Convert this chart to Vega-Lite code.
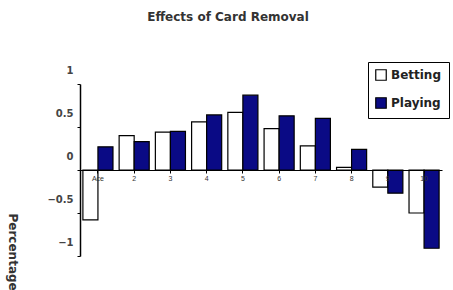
{
  "$schema": "https://vega.github.io/schema/vega-lite/v6.json",
  "autosize": "none",
  "width": 362,
  "height": 172,
  "padding": {"left": 80, "top": 84, "right": 11, "bottom": 34},
  "background": "white",
  "title": {
    "text": "Effects of Card Removal",
    "font": "DejaVu Sans",
    "fontSize": 12,
    "fontWeight": "bold",
    "color": "#333333",
    "anchor": "middle",
    "frame": "group",
    "dx": -33,
    "offset": 38
  },
  "data": {
    "values": [
      {"card": "Ace", "type": "Betting", "value": -0.58},
      {"card": "Ace", "type": "Playing", "value": 0.27},
      {"card": "2", "type": "Betting", "value": 0.4},
      {"card": "2", "type": "Playing", "value": 0.33},
      {"card": "3", "type": "Betting", "value": 0.44},
      {"card": "3", "type": "Playing", "value": 0.45},
      {"card": "4", "type": "Betting", "value": 0.56},
      {"card": "4", "type": "Playing", "value": 0.64},
      {"card": "5", "type": "Betting", "value": 0.67},
      {"card": "5", "type": "Playing", "value": 0.87},
      {"card": "6", "type": "Betting", "value": 0.48},
      {"card": "6", "type": "Playing", "value": 0.63},
      {"card": "7", "type": "Betting", "value": 0.28},
      {"card": "7", "type": "Playing", "value": 0.6},
      {"card": "8", "type": "Betting", "value": 0.03},
      {"card": "8", "type": "Playing", "value": 0.24},
      {"card": "9", "type": "Betting", "value": -0.2},
      {"card": "9", "type": "Playing", "value": -0.27},
      {"card": "10", "type": "Betting", "value": -0.5},
      {"card": "10", "type": "Playing", "value": -0.91}
    ]
  },
  "mark": {"type": "bar", "stroke": "black", "strokeWidth": 1.2},
  "encoding": {
    "x": {
      "field": "card",
      "type": "nominal",
      "sort": ["Ace", "2", "3", "4", "5", "6", "7", "8", "9", "10"],
      "scale": {"paddingInner": 0.17, "paddingOuter": 0.08},
      "axis": {
        "title": null,
        "offset": -86,
        "labelAngle": 0,
        "labelFontSize": 7,
        "labelColor": "#333333",
        "labelPadding": 1,
        "tickSize": 3,
        "tickColor": "black",
        "domainColor": "black",
        "domainWidth": 1.2,
        "zindex": 1
      }
    },
    "xOffset": {"field": "type", "type": "nominal", "sort": ["Betting", "Playing"]},
    "y": {
      "field": "value",
      "type": "quantitative",
      "scale": {"domain": [-1, 1], "nice": false},
      "axis": {
        "values": [-1, -0.5, 0, 0.5, 1],
        "format": "~g",
        "grid": false,
        "labelFont": "DejaVu Sans",
        "labelFontSize": 10,
        "labelFontWeight": "bold",
        "labelColor": "#444444",
        "labelOffset": -14,
        "labelPadding": 4,
        "tickSize": 3,
        "tickColor": "black",
        "domainColor": "black",
        "domainWidth": 1.5,
        "title": "Percentage",
        "titleAngle": 90,
        "titleX": -68,
        "titleY": 129,
        "titleAlign": "left",
        "titleBaseline": "middle",
        "titleFont": "DejaVu Sans",
        "titleFontSize": 12,
        "titleFontWeight": "bold",
        "titleColor": "#333333"
      }
    },
    "fill": {
      "field": "type",
      "type": "nominal",
      "scale": {"domain": ["Betting", "Playing"], "range": ["#ffffff", "#0a0a85"]},
      "legend": {
        "title": null,
        "orient": "none",
        "legendX": 288,
        "legendY": -22,
        "direction": "vertical",
        "strokeColor": "black",
        "fillColor": "white",
        "padding": 7,
        "symbolType": "square",
        "symbolSize": 110,
        "symbolStrokeColor": "black",
        "symbolStrokeWidth": 1.2,
        "rowPadding": 12,
        "labelFont": "DejaVu Sans",
        "labelFontSize": 12,
        "labelFontWeight": "bold",
        "labelColor": "#222222",
        "labelOffset": 4,
        "labelLimit": 200
      }
    }
  },
  "config": {"view": {"stroke": null}}
}
